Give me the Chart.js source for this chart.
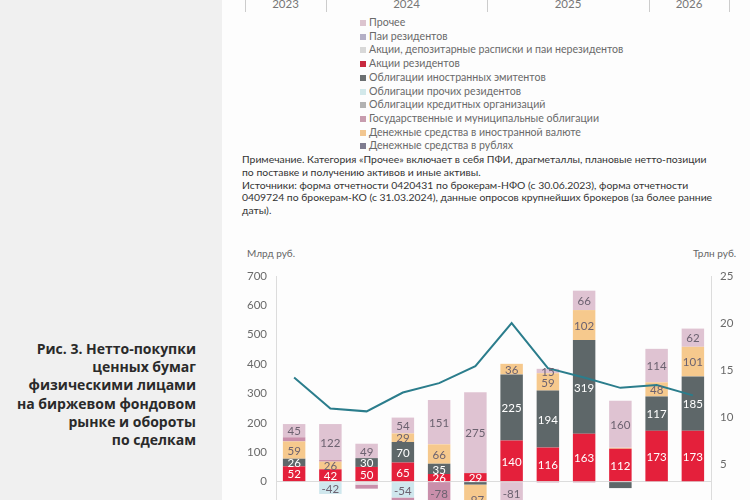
<!DOCTYPE html>
<html>
<head>
<meta charset="utf-8">
<script src="https://cdn.jsdelivr.net/npm/chart.js@4"></script>
<style>
  html, body { margin: 0; padding: 0; width: 750px; height: 500px; overflow: hidden; background: #fdfdfd; font-family: Lato, "Open Sans", sans-serif; }
  .side { position: absolute; left: 0; top: 0; width: 222px; height: 500px; background: #f0f0f0; }
  .title { position: absolute; right: 26px; top: 340px; text-align: right; font-family: "Open Sans", sans-serif; font-weight: bold; font-size: 14px; line-height: 18.2px; color: #2a2a2a; white-space: nowrap; }
  .yr { position: absolute; top: -3px; font-size: 11.5px; color: #777; text-align: center; }
  .sep { position: absolute; top: 0; width: 1px; height: 12px; background: #ccc; }
  .lg { position: absolute; left: 360px; font-size: 10.6px; color: #6a6a6a; line-height: 12px; white-space: nowrap; }
  .lg i { display: inline-block; width: 6px; height: 6px; margin-right: 3px; vertical-align: 0px; }
  .note { position: absolute; left: 242px; top: 153px; width: 505px; font-size: 10.4px; line-height: 12.8px; color: #333; white-space: nowrap; }
  .unit { position: absolute; top: 247px; font-size: 10px; color: #666; }
  .wrap { position: absolute; left: 230px; top: 240px; width: 520px; height: 300px; }
</style>
</head>
<body>
<div class="side">
  <div class="title">Рис. 3. Нетто-покупки<br>ценных бумаг<br>физическими лицами<br>на биржевом фондовом<br>рынке и обороты<br>по сделкам</div>
</div>

<div id="years"></div>
<div id="legend"></div>

<div class="note">Примечание. Категория «Прочее» включает в себя ПФИ, драгметаллы, плановые нетто-позиции<br>по поставке и получению активов и иные активы.<br>Источники: форма отчетности 0420431 по брокерам-НФО (с 30.06.2023), форма отчетности<br>0409724 по брокерам-КО (с 31.03.2024), данные опросов крупнейших брокеров (за более ранние<br>даты).</div>

<div class="unit" style="left:247px">Млрд руб.</div>
<div class="unit" style="left:693px">Трлн руб.</div>

<div class="wrap"><canvas id="chart"></canvas></div>

<script>
// upper chart remnants (axis years + legend)
const topYears = ['2023', '2024', '2025', '2026'];
const yearEdges = [245, 326, 487, 649, 729];
const topLegend = ['Прочее', 'Паи резидентов', 'Акции, депозитарные расписки и паи нерезидентов', 'Акции резидентов',
  'Облигации иностранных эмитентов', 'Облигации прочих резидентов', 'Облигации кредитных организаций',
  'Государственные и муниципальные облигации', 'Денежные средства в иностранной валюте', 'Денежные средства в рублях'];
const topLegendColors = ['#dcc4cf', '#b4afc6', '#d8d8d8', '#c8283e', '#6b6f71', '#d2e8ea', '#b2b2b2', '#c79cae', '#f2c690', '#7f7c8f'];

// lower chart data
const quarters = ['I кв. 2023', 'II кв. 2023', 'III кв. 2023', 'IV кв. 2023', 'I кв. 2024', 'II кв. 2024',
  'III кв. 2024', 'IV кв. 2024', 'I кв. 2025', 'II кв. 2025', 'III кв. 2025', 'IV кв. 2025'];
const sharesRes   = [52, 42, 50, 65, 26, 29, 140, 116, 163, 112, 173, 173];
const bonds       = [26, 0, 30, 70, 35, -10, 225, 194, 319, -22, 117, 185];
const bondsOther  = [0, -42, 0, -54, 0, 0, 0, 0, 0, 0, 0, 0];
const sharesNonRes = [0, 0, -10, 0, 0, 0, 0, 0, 0, 0, 0, 0];
const ofz         = [59, 26, 0, 29, 66, -97, 36, 59, 102, 3, 48, 101];
const funds       = [14, 6, -14, -20, -78, 0, 0, -3, -3, 0, 0, 0];
const other       = [45, 122, 49, 54, 151, 275, -81, 15, 66, 160, 114, 62];
const turnover    = [14.2, 10.9, 10.6, 12.6, 13.6, 15.4, 20.0, 15.2, 14.2, 13.1, 13.4, 12.3];
const leftTicks = [-100, 700, 100];
const rightTicks = [0, 25, 5];

const yearsEl = document.getElementById('years');
yearEdges.forEach(x => {
  const d = document.createElement('div');
  d.className = 'sep'; d.style.left = x + 'px';
  yearsEl.appendChild(d);
});
topYears.forEach((y, i) => {
  const d = document.createElement('div');
  d.className = 'yr';
  d.style.left = yearEdges[i] + 'px';
  d.style.width = (yearEdges[i + 1] - yearEdges[i]) + 'px';
  d.textContent = y;
  yearsEl.appendChild(d);
});
const legEl = document.getElementById('legend');
topLegend.forEach((t, i) => {
  const d = document.createElement('div');
  d.className = 'lg';
  d.style.top = (16 + i * 13.7) + 'px';
  d.innerHTML = '<i style="background:' + topLegendColors[i] + '"></i>' + t;
  legEl.appendChild(d);
});

const darkText = '#6c6270';
const barSets = [
  { label: 'Акции резидентов', data: sharesRes, backgroundColor: '#e4203b', txt: '#fff' },
  { label: 'Облигации', data: bonds, backgroundColor: '#5e6769', txt: '#fff' },
  { label: 'Облигации прочих резидентов', data: bondsOther, backgroundColor: '#cfe7ed', txt: darkText },
  { label: 'Акции нерезидентов', data: sharesNonRes, backgroundColor: '#e6e3e6', txt: darkText },
  { label: 'Государственные облигации', data: ofz, backgroundColor: '#f6c98d', txt: darkText },
  { label: 'Паи резидентов', data: funds, backgroundColor: '#c98fab', txt: darkText },
  { label: 'Прочее', data: other, backgroundColor: '#dfc3d2', txt: darkText }
];

// small segments stay unlabeled, as in the report
const showLabel = v => v >= 15 || v <= -40;

const barLabels = {
  id: 'barLabels',
  afterDatasetsDraw(chart) {
    const ctx = chart.ctx;
    ctx.save();
    ctx.font = '11.5px Lato, sans-serif';
    ctx.textAlign = 'center';
    ctx.textBaseline = 'middle';
    chart.data.datasets.forEach((ds, di) => {
      if (ds.type === 'line') return;
      const meta = chart.getDatasetMeta(di);
      meta.data.forEach((el, i) => {
        const v = ds.data[i];
        if (!showLabel(v)) return;
        ctx.fillStyle = ds.txt;
        ctx.fillText(String(v), el.x, (el.y + el.base) / 2 + 1);
      });
    });
    ctx.restore();
  }
};

new Chart(document.getElementById('chart'), {
  data: {
    labels: quarters,
    datasets: [
      { type: 'line', label: 'Оборот (пр. шкала)', data: turnover, yAxisID: 'y2', borderColor: '#2b7d8c',
        borderWidth: 2, pointRadius: 0, tension: 0, order: 0 },
      ...barSets.map(s => ({ type: 'bar', label: s.label, data: s.data, backgroundColor: s.backgroundColor, txt: s.txt,
        yAxisID: 'y', stack: 's', barPercentage: 0.62, categoryPercentage: 1, order: 1 }))
    ]
  },
  options: {
    responsive: true,
    maintainAspectRatio: false,
    animation: false,
    layout: { padding: { top: 36, left: 0, right: 0, bottom: 0 } },
    plugins: { legend: { display: false }, tooltip: { enabled: false } },
    scales: {
      x: {
        stacked: true,
        grid: { display: false },
        border: { display: false },
        ticks: { color: '#666', font: { size: 10, family: 'Lato' }, maxRotation: 0 },
        afterFit: s => { s.height = 29; }
      },
      y: {
        position: 'left',
        stacked: true,
        min: leftTicks[0], max: leftTicks[1],
        ticks: { stepSize: leftTicks[2], color: '#6a6a6a', font: { size: 11.5, family: 'Lato' }, padding: 9,
          callback: v => v < 0 ? '' : v },
        grid: { drawTicks: false, color: c => c.tick && c.tick.value === 0 ? '#dcdcdc' : 'transparent' },
        border: { color: '#dcdcdc' },
        afterFit: s => { s.width = 46; }
      },
      y2: {
        position: 'right',
        min: rightTicks[0], max: rightTicks[1],
        ticks: { stepSize: rightTicks[2], color: '#6a6a6a', font: { size: 11.5, family: 'Lato' }, padding: 9,
          callback: v => v === 0 ? '' : v },
        grid: { display: false, drawTicks: false },
        border: { color: '#dcdcdc' },
        afterFit: s => { s.width = 39; }
      }
    }
  },
  plugins: [barLabels]
});
</script>
</body>
</html>
